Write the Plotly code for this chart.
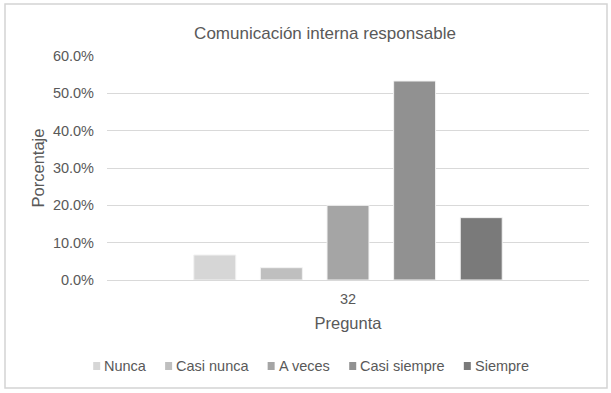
import plotly.graph_objects as go

categories = ["32"]
series_names = ["Nunca", "Casi nunca", "A veces", "Casi siempre", "Siempre"]
series_values = [0.067, 0.033, 0.200, 0.533, 0.167]
colors = ["#d6d6d6", "#bfbfbf", "#a5a5a5", "#919191", "#7a7a7a"]
y_ticks = [0, 0.1, 0.2, 0.3, 0.4, 0.5, 0.6]

W, H = 611, 393
L, R, T, B = 107, 611 - 589, 56, 393 - 280
pw, ph = W - L - R, H - T - B

FONT = "Liberation Sans, Arial, sans-serif"
GREY = "#595959"

fig = go.Figure()
for name, v, c in zip(series_names, series_values, colors):
    fig.add_trace(go.Bar(
        x=categories, y=[v], name=name, showlegend=False,
        marker=dict(color=c, line=dict(color="#f2f2f2", width=1)),
    ))

def px_x(p):
    return (p - L) / pw

def px_y(p):
    return (H - B - p) / ph

fig.update_layout(
    width=W, height=H,
    margin=dict(l=L, r=R, t=T, b=B),
    paper_bgcolor="white", plot_bgcolor="white",
    font=dict(family=FONT, color=GREY, size=14.5),
    barmode="group", bargap=0.309, bargroupgap=0.37,
    showlegend=False,
    title=dict(text="Comunicación interna responsable", x=px_x(325), xanchor="center",
               xref="paper", y=1 - 33 / H, yanchor="middle",
               font=dict(size=17, color=GREY)),
    xaxis=dict(title=dict(text="Pregunta", font=dict(size=16.5, color=GREY), standoff=11),
               showgrid=False, showline=True, linecolor="#d9d9d9", linewidth=1,
               ticks="", tickfont=dict(size=14.5), ticklabelstandoff=6),
    yaxis=dict(title=dict(text="Porcentaje", font=dict(size=16.5, color=GREY), standoff=4),
               range=[0, 0.6], tickvals=y_ticks, tickformat=".1%",
               showgrid=True, gridcolor="#d9d9d9", gridwidth=1, zeroline=False,
               showline=False, ticks="", tickfont=dict(size=14.5), ticklabelstandoff=12),
)

# chart border
fig.add_shape(type="rect", xref="paper", yref="paper",
              x0=px_x(5), x1=px_x(607), y0=px_y(388), y1=px_y(4),
              line=dict(color="#d4d4d4", width=1.5), fillcolor="rgba(0,0,0,0)", layer="below")

# legend (Excel style: small square + label, one row, centered)
ARIAL_W = {"N": .722, "u": .556, "n": .556, "c": .5, "a": .556, "C": .722, "s": .5,
           "i": .222, " ": .278, "A": .667, "v": .5, "e": .556, "m": .833, "p": .556,
           "r": .333, "S": .667}

def text_w(s, size):
    return sum(ARIAL_W.get(ch, .556) for ch in s) * size

LEG_SIZE = 14.5
SYM, SYM_GAP, ITEM_GAP = 7, 3, 20
LEG_CY = 366
widths = [SYM + SYM_GAP + text_w(n, LEG_SIZE) for n in series_names]
total = sum(widths) + ITEM_GAP * (len(widths) - 1)
x = 310.5 - total / 2
for name, c, w in zip(series_names, colors, widths):
    fig.add_shape(type="rect", xref="paper", yref="paper",
                  x0=px_x(x), x1=px_x(x + SYM), y0=px_y(LEG_CY + 4), y1=px_y(LEG_CY - 4),
                  line=dict(width=0), fillcolor=c)
    fig.add_annotation(xref="paper", yref="paper", x=px_x(x + SYM + SYM_GAP), y=px_y(LEG_CY),
                       xanchor="left", yanchor="middle", showarrow=False, text=name,
                       font=dict(size=LEG_SIZE, color=GREY, family=FONT), borderpad=0)
    x += w + ITEM_GAP

fig.write_html("out.html", config={"displayModeBar": False},
               post_script="document.body.style.margin='0';")
